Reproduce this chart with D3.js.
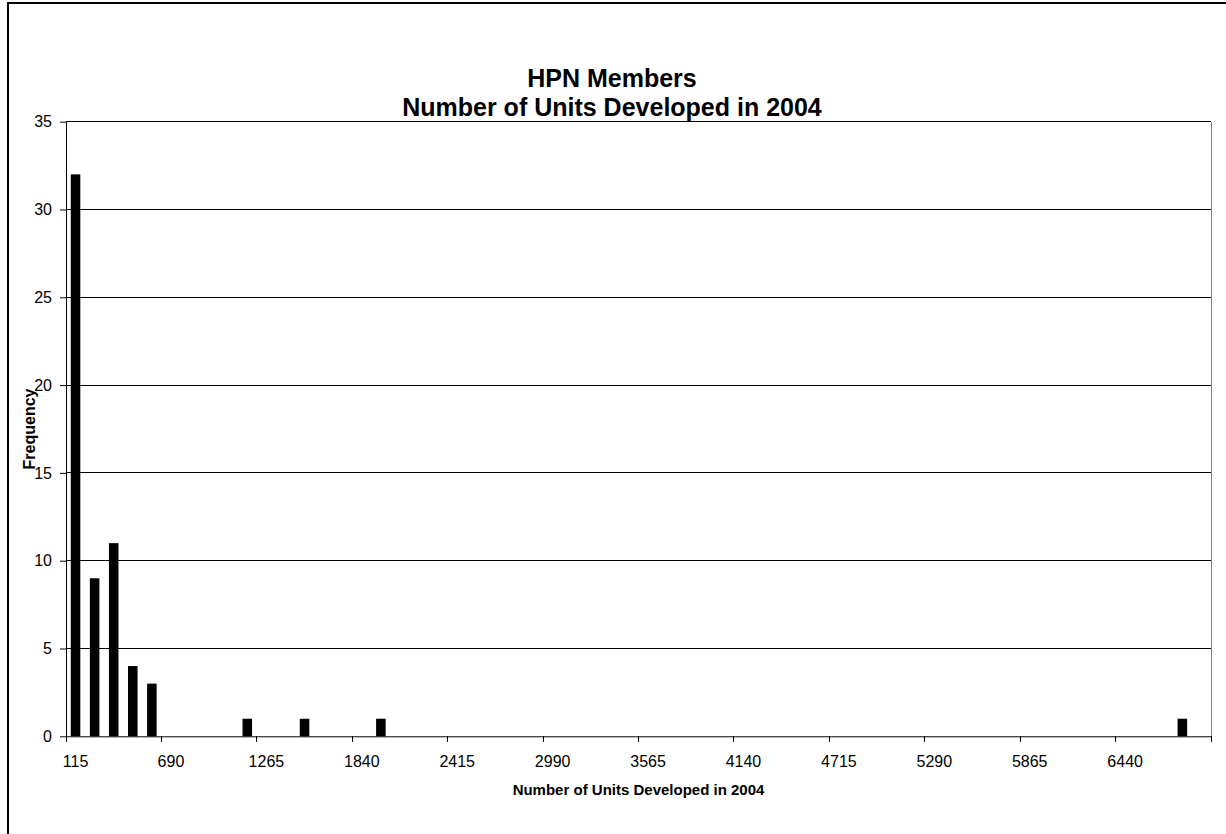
<!DOCTYPE html>
<html>
<head>
<meta charset="utf-8">
<script src="https://cdn.jsdelivr.net/npm/d3@7"></script>
<style>
  html, body { margin: 0; padding: 0; background: #fff; }
  svg { display: block; }
  text { font-family: "Liberation Sans", Arial, Helvetica, sans-serif; fill: #000; }
</style>
</head>
<body>
<svg id="chart" width="1226" height="834"></svg>
<script>
// Histogram bins (upper bin limits, units developed)
const binLabels = [115, 230, 345, 460, 575, 690, 805, 920, 1035, 1150,
  1265, 1380, 1495, 1610, 1725, 1840, 1955, 2070, 2185, 2300,
  2415, 2530, 2645, 2760, 2875, 2990, 3105, 3220, 3335, 3450,
  3565, 3680, 3795, 3910, 4025, 4140, 4255, 4370, 4485, 4600,
  4715, 4830, 4945, 5060, 5175, 5290, 5405, 5520, 5635, 5750,
  5865, 5980, 6095, 6210, 6325, 6440, 6555, 6670, 6785, 6900];

// Number of members falling in each bin
const frequencies = [32, 9, 11, 4, 3, 0, 0, 0, 0, 1,
  0, 0, 1, 0, 0, 0, 1, 0, 0, 0,
  0, 0, 0, 0, 0, 0, 0, 0, 0, 0,
  0, 0, 0, 0, 0, 0, 0, 0, 0, 0,
  0, 0, 0, 0, 0, 0, 0, 0, 0, 0,
  0, 0, 0, 0, 0, 0, 0, 0, 1, 0];

// Labelled x categories and y tick values
const xTickLabels = [115, 690, 1265, 1840, 2415, 2990, 3565, 4140, 4715, 5290, 5865, 6440];
const yTicks = [0, 5, 10, 15, 20, 25, 30, 35];

const titleLines = ["HPN Members", "Number of Units Developed in 2004"];
const xTitle = "Number of Units Developed in 2004";
const yTitle = "Frequency";

const svg = d3.select("#chart");
const W = 1226, H = 834;
const plot = { left: 66, right: 1211, top: 121.7, bottom: 736.3 };

svg.append("rect").attr("width", W).attr("height", H).attr("fill", "#fff");

// chart-area frame
svg.append("rect")
  .attr("x", 8).attr("y", 3).attr("width", 1300).attr("height", 900)
  .attr("fill", "none").attr("stroke", "#000").attr("stroke-width", 2);

const x = d3.scaleBand().domain(binLabels).range([plot.left, plot.right]).padding(0);
const y = d3.scaleLinear().domain([0, 35]).range([plot.bottom, plot.top]);

// horizontal gridlines
svg.append("g")
  .selectAll("line")
  .data(yTicks.filter(v => v > 0))
  .join("line")
  .attr("x1", plot.left).attr("x2", plot.right)
  .attr("y1", d => y(d)).attr("y2", d => y(d))
  .attr("stroke", "#000").attr("stroke-width", 1)
  .attr("shape-rendering", "crispEdges");

// right edge of the plot area
svg.append("line")
  .attr("x1", plot.right).attr("x2", plot.right)
  .attr("y1", plot.top).attr("y2", plot.bottom)
  .attr("stroke", "#808080").attr("stroke-width", 1)
  .attr("shape-rendering", "crispEdges");

// bars: half the bin width, centred in the bin
const step = x.step();
svg.append("g")
  .selectAll("rect")
  .data(binLabels.map((b, i) => ({ bin: b, value: frequencies[i] })).filter(d => d.value > 0))
  .join("rect")
  .attr("x", d => x(d.bin) + step / 4)
  .attr("width", step / 2)
  .attr("y", d => y(d.value))
  .attr("height", d => y(0) - y(d.value))
  .attr("fill", "#000");

// y axis
const yAxis = d3.axisLeft(y).tickValues(yTicks).tickSize(6).tickPadding(8).tickSizeOuter(0);
const gy = svg.append("g").attr("transform", `translate(${plot.left},0)`).call(yAxis);
gy.select(".domain").attr("stroke", "#000");
gy.selectAll(".tick line").attr("stroke", "#000");
gy.selectAll(".tick text").attr("font-size", 16)
  .attr("font-family", "'Liberation Sans', Arial, sans-serif").attr("fill", "#000");

// x axis: labels every fifth bin, tick marks on bin boundaries
const xAxis = d3.axisBottom(x)
  .tickValues(xTickLabels)
  .tickSize(0).tickSizeOuter(0).tickPadding(19);
const gx = svg.append("g").attr("transform", `translate(0,${plot.bottom})`).call(xAxis);
gx.select(".domain").attr("stroke", "#000");
gx.selectAll(".tick text").attr("font-size", 16)
  .attr("font-family", "'Liberation Sans', Arial, sans-serif").attr("fill", "#000");

const boundaries = binLabels.filter((b, i) => i % 5 === 0).map(b => x(b)).concat([plot.right]);
gx.append("g").selectAll("line")
  .data(boundaries)
  .join("line")
  .attr("x1", d => d).attr("x2", d => d)
  .attr("y1", 0).attr("y2", 6)
  .attr("stroke", "#000")
  .attr("shape-rendering", "crispEdges");

// titles
svg.append("text")
  .attr("x", 612).attr("text-anchor", "middle")
  .attr("font-size", 25).attr("font-weight", "bold")
  .selectAll("tspan")
  .data(titleLines)
  .join("tspan")
  .attr("x", 612)
  .attr("y", (d, i) => 87 + i * 29)
  .text(d => d);

svg.append("text")
  .attr("x", (plot.left + plot.right) / 2).attr("y", 795)
  .attr("text-anchor", "middle")
  .attr("font-size", 15).attr("font-weight", "bold")
  .text(xTitle);

svg.append("text")
  .attr("transform", `translate(35,${(plot.top + plot.bottom) / 2}) rotate(-90)`)
  .attr("text-anchor", "middle")
  .attr("font-size", 16).attr("font-weight", "bold")
  .text(yTitle);
</script>
</body>
</html>
